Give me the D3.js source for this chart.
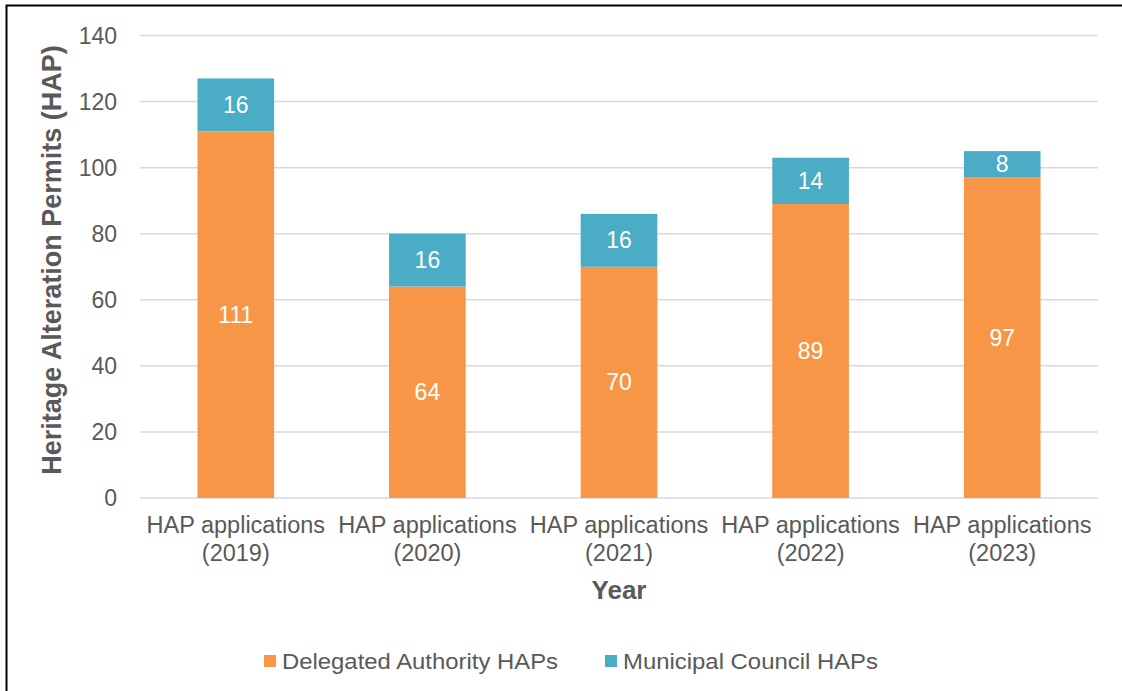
<!DOCTYPE html>
<html>
<head>
<meta charset="utf-8">
<script src="https://cdn.jsdelivr.net/npm/d3@7"></script>
<style>
  html, body { margin: 0; padding: 0; background: #fff; }
  svg text { font-family: "Liberation Sans", Arial, sans-serif; }
</style>
</head>
<body>
<div id="chart"></div>
<script>
const categories = [
  ["HAP applications", "(2019)"],
  ["HAP applications", "(2020)"],
  ["HAP applications", "(2021)"],
  ["HAP applications", "(2022)"],
  ["HAP applications", "(2023)"],
];
const delegated = [111, 64, 70, 89, 97];
const municipal = [16, 16, 16, 14, 8];
const seriesNames = ["Delegated Authority HAPs", "Municipal Council HAPs"];
const yTicks = [0, 20, 40, 60, 80, 100, 120, 140];

function drawChart() {
  const W = 1122, H = 691;
  const plot = { left: 140, right: 1098, top: 35.5, bottom: 498 };
  const colors = ["#F79646", "#4BACC6"];
  const textColor = "#595959";

  const svg = d3.select("#chart").append("svg")
    .attr("width", W)
    .attr("height", H);

  svg.append("rect")
    .attr("width", W).attr("height", H).attr("fill", "#fff");

  // outer frame (runs off the right and bottom edge)
  svg.append("rect")
    .attr("x", 6.5).attr("y", 5.5)
    .attr("width", W + 10).attr("height", H + 10)
    .attr("fill", "none")
    .attr("stroke", "#000")
    .attr("stroke-width", 2);

  const x = d3.scaleBand()
    .domain(d3.range(categories.length))
    .range([plot.left, plot.right])
    .paddingInner(0.6)
    .paddingOuter(0.3);

  const y = d3.scaleLinear()
    .domain([0, 140])
    .range([plot.bottom, plot.top]);

  // gridlines
  svg.append("g")
    .selectAll("line")
    .data(yTicks)
    .join("line")
    .attr("x1", plot.left).attr("x2", plot.right)
    .attr("y1", (d) => y(d)).attr("y2", (d) => y(d))
    .attr("stroke", "#d9d9d9")
    .attr("stroke-width", 1.5);

  // y tick labels
  svg.append("g")
    .selectAll("text")
    .data(yTicks)
    .join("text")
    .attr("x", 117)
    .attr("y", (d) => y(d))
    .attr("dy", "0.35em")
    .attr("text-anchor", "end")
    .attr("fill", textColor)
    .style("font-size", "23px")
    .text((d) => d);

  const rows = categories.map((c, i) => ({ i, a: delegated[i], b: municipal[i] }));
  const stacked = d3.stack().keys(["a", "b"])(rows);

  const layers = svg.append("g")
    .selectAll("g")
    .data(stacked)
    .join("g")
    .attr("fill", (d, k) => colors[k]);

  layers.selectAll("rect")
    .data((d) => d)
    .join("rect")
    .attr("x", (d) => x(d.data.i))
    .attr("width", x.bandwidth())
    .attr("y", (d) => y(d[1]))
    .attr("height", (d) => y(d[0]) - y(d[1]));

  layers.selectAll("text")
    .data((d) => d)
    .join("text")
    .attr("x", (d) => x(d.data.i) + x.bandwidth() / 2)
    .attr("y", (d) => y((d[0] + d[1]) / 2))
    .attr("dy", "0.35em")
    .attr("text-anchor", "middle")
    .attr("fill", "#fff")
    .style("font-size", "23px")
    .text((d) => d[1] - d[0]);

  // category labels
  const catG = svg.append("g")
    .selectAll("text")
    .data(categories)
    .join("text")
    .attr("text-anchor", "middle")
    .attr("fill", textColor)
    .style("font-size", "23.5px")
    .attr("transform", (d, i) => `translate(${x(i) + x.bandwidth() / 2},0)`);
  catG.append("tspan").attr("x", 0).attr("y", 533).text((d) => d[0]);
  catG.append("tspan").attr("x", 0).attr("y", 561).text((d) => d[1]);

  // axis titles
  svg.append("text")
    .attr("x", (plot.left + plot.right) / 2)
    .attr("y", 599)
    .attr("text-anchor", "middle")
    .attr("fill", textColor)
    .style("font-size", "26px")
    .style("font-weight", "bold")
    .text("Year");

  svg.append("text")
    .attr("transform", `translate(61,260) rotate(-90)`)
    .attr("text-anchor", "middle")
    .attr("fill", textColor)
    .style("font-size", "27px")
    .style("font-weight", "bold")
    .text("Heritage Alteration Permits (HAP)");

  // legend
  const legendX = [264, 605];
  const legend = svg.append("g")
    .selectAll("g")
    .data(seriesNames)
    .join("g")
    .attr("transform", (d, i) => `translate(${legendX[i]},661)`);
  legend.append("rect")
    .attr("x", 0).attr("y", -6)
    .attr("width", 12).attr("height", 12)
    .attr("fill", (d, i) => colors[i]);
  legend.append("text")
    .attr("x", 18)
    .attr("dy", "0.35em")
    .attr("fill", textColor)
    .style("font-size", "22px")
    .attr("textLength", (d, i) => [276, 255][i])
    .attr("lengthAdjust", "spacingAndGlyphs")
    .text((d) => d);
}

drawChart();
</script>
</body>
</html>
